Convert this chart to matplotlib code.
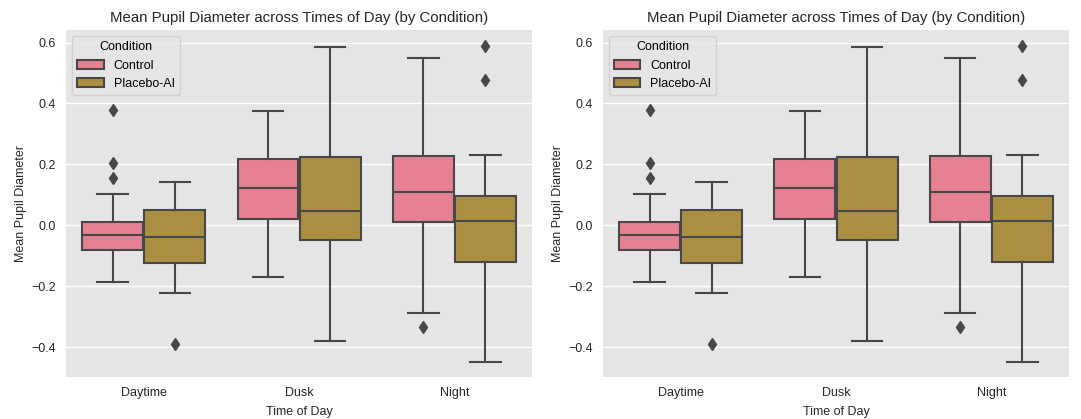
import colorsys
import matplotlib
matplotlib.use("Agg")
import matplotlib.pyplot as plt
from matplotlib.patches import Patch
import seaborn as sns

# categories
times = ['Daytime', 'Dusk', 'Night']
conditions = ['Control', 'Placebo-AI']

# box summaries (one value per time of day)
control_med = [-0.030, 0.123, 0.110]
control_q1 = [-0.082, 0.020, 0.012]
control_q3 = [0.012, 0.217, 0.227]
control_whislo = [-0.187, -0.169, -0.286]
control_whishi = [0.103, 0.375, 0.548]
control_fliers = [[0.379, 0.204, 0.156], [], [-0.333]]

placebo_med = [-0.038, 0.048, 0.014]
placebo_q1 = [-0.124, -0.049, -0.119]
placebo_q3 = [0.050, 0.225, 0.097]
placebo_whislo = [-0.223, -0.380, -0.447]
placebo_whishi = [0.141, 0.586, 0.230]
placebo_fliers = [[-0.388], [], [0.590, 0.478]]


def make_stats(med, q1, q3, lo, hi, fliers):
    return [dict(med=m, q1=a, q3=b, whislo=l, whishi=h, fliers=f)
            for m, a, b, l, h, f in zip(med, q1, q3, lo, hi, fliers)]


stats = [
    make_stats(control_med, control_q1, control_q3, control_whislo, control_whishi, control_fliers),
    make_stats(placebo_med, placebo_q1, placebo_q3, placebo_whislo, placebo_whishi, placebo_fliers),
]

# husl palette, desaturated like seaborn boxplot does
pal = sns.color_palette('husl', 6)
colors = [sns.desaturate(pal[0], 0.75), sns.desaturate(pal[1], 0.75)]
lum = min(colorsys.rgb_to_hls(*c)[1] for c in colors) * 0.6
gray = (lum, lum, lum)

plt.rcParams['font.family'] = ['Liberation Sans', 'DejaVu Sans']

fig = plt.figure(figsize=(10.81, 4.19), dpi=100)
ax_rects = [[0.0611, 0.1002, 0.4311, 0.8282], [0.5578, 0.1002, 0.4311, 0.8282]]

for rect in ax_rects:
    ax = fig.add_axes(rect)
    ax.set_facecolor('#E5E5E5')
    for sp in ax.spines.values():
        sp.set_visible(False)
    ax.yaxis.grid(True, color='white', linewidth=1.0)
    ax.set_axisbelow(True)

    width = 0.8 / len(conditions)
    for j, cond in enumerate(conditions):
        offs = -0.4 + width / 2 + j * width
        pos = [i + offs for i in range(len(times))]
        ax.bxp(stats[j], positions=pos, widths=width * 0.98, patch_artist=True,
               manage_ticks=False,
               boxprops=dict(facecolor=colors[j], edgecolor=gray, linewidth=1.5),
               medianprops=dict(color=gray, linewidth=1.5),
               whiskerprops=dict(color=gray, linewidth=1.5),
               capprops=dict(color=gray, linewidth=1.5),
               flierprops=dict(marker='d', markerfacecolor=gray, markeredgecolor=gray,
                               markersize=6, linestyle='none'))

    ax.set_xticks(range(len(times)))
    ax.set_xticklabels(times)
    ax.set_xlim(-0.5, len(times) - 0.5)
    ax.set_ylim(-0.497, 0.641)
    ax.set_yticks([-0.4, -0.2, 0.0, 0.2, 0.4, 0.6])
    ax.tick_params(length=0, labelsize=9, colors='#262626', pad=7.5)
    ax.set_xlabel('Time of Day', fontsize=9, color='#262626', labelpad=4.5)
    ax.set_ylabel('Mean Pupil Diameter', fontsize=9, color='#262626', labelpad=3)
    ax.set_title('Mean Pupil Diameter across Times of Day (by Condition)',
                 fontsize=10.8, color='#262626', pad=5.5)

    handles = [Patch(facecolor=colors[k], edgecolor=gray, linewidth=1.5, label=c)
               for k, c in enumerate(conditions)]
    leg = ax.legend(handles=handles, title='Condition', loc='upper left',
                    fontsize=9, title_fontsize=9, facecolor='#E5E5E5',
                    edgecolor='#CCCCCC', framealpha=0.8, handlelength=2.1)

fig.savefig('out.png', dpi=100, facecolor='white')
